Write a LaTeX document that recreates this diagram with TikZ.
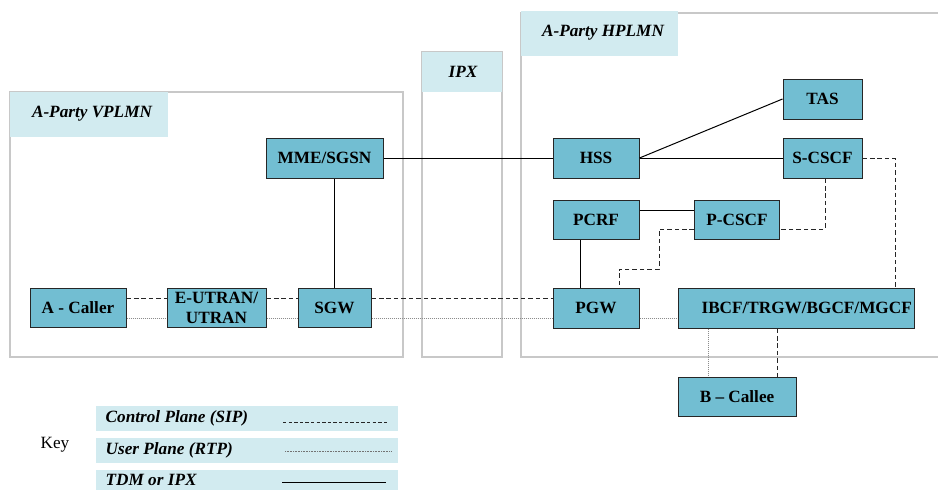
\documentclass[tikz,border=0pt]{standalone}
\usepackage{fontspec}
\setmainfont{Liberation Serif}
\usetikzlibrary{calc}
\definecolor{nodefill}{RGB}{114,190,210}
\definecolor{labfill}{RGB}{210,235,240}
\definecolor{zonegray}{RGB}{200,200,200}
\begin{document}
\begin{tikzpicture}[x=0.75pt,y=-0.75pt,
  netnode/.style={draw=black!85,fill=nodefill,line width=0.75pt,
    font=\fontsize{12.9}{15}\selectfont\bfseries,inner sep=0pt,align=center},
  zone/.style={draw=zonegray,line width=0.9pt},
  zonelabel/.style={fill=labfill,draw=none},
  zonetext/.style={font=\fontsize{12.9}{15}\selectfont\bfseries\itshape},
  keytext/.style={font=\fontsize{12.9}{15}\selectfont\bfseries\itshape,anchor=west},
  sipline/.style={draw=black!85,line width=0.75pt,dash pattern=on 3.4pt off 2.2pt},
  rtpline/.style={draw=black!45,line width=0.75pt,dash pattern=on 0.75pt off 0.75pt},
  tdmline/.style={draw=black,line width=0.75pt}]
\useasboundingbox (0,0) rectangle (938,489);
\clip (0,0) rectangle (938,489);

% zones
\draw[zone] (10,92) rectangle (403,357);
\fill[zonelabel] (10,92) rectangle (168,137);
\node[zonetext] (vplmn) at (92,114) {A-Party VPLMN};

\draw[zone] (422,52) rectangle (502,357);
\fill[zonelabel] (422,52) rectangle (502,92);
\node[zonetext] (ipx) at (463,72) {IPX};

\draw[zone] (521,13) rectangle (950,357);
\fill[zonelabel] (521,11) rectangle (678,56);
\node[zonetext] (hplmn) at (603,33) {A-Party HPLMN};

% nodes
\node[netnode,minimum width=117*0.75pt,minimum height=40*0.75pt] (mme) at (324.5,158) {MME/SGSN};
\node[netnode,minimum width=96*0.75pt,minimum height=39*0.75pt] (caller) at (78,307.5) {A - Caller};
\node[netnode,minimum width=99*0.75pt,minimum height=39*0.75pt] (eutran) at (216.5,307.5) {E-UTRAN/\\UTRAN};
\node[netnode,minimum width=73*0.75pt,minimum height=39*0.75pt] (sgw) at (334.5,307.5) {SGW};
\node[netnode,minimum width=86*0.75pt,minimum height=40*0.75pt] (hss) at (596,158) {HSS};
\node[netnode,minimum width=79*0.75pt,minimum height=40*0.75pt] (tas) at (822.5,99) {TAS};
\node[netnode,minimum width=79*0.75pt,minimum height=40*0.75pt] (scscf) at (822.5,158) {S-CSCF};
\node[netnode,minimum width=86*0.75pt,minimum height=39*0.75pt] (pcrf) at (596,219.5) {PCRF};
\node[netnode,minimum width=85*0.75pt,minimum height=39*0.75pt] (pcscf) at (737,219.5) {P-CSCF};
\node[netnode,minimum width=86*0.75pt,minimum height=40*0.75pt] (pgw) at (596,308) {PGW};
\node[netnode,minimum width=236*0.75pt,minimum height=40*0.75pt] (ibcf) at (796,308) {\hspace{16pt}IBCF/TRGW/BGCF/MGCF};
\node[netnode,minimum width=118*0.75pt,minimum height=39*0.75pt] (callee) at (737,396.5) {B -- Callee};

% helper coordinates
\coordinate (cp) at (0,298);
\coordinate (up) at (0,318);
\coordinate (pc) at (0,210);
\coordinate (pl) at (580,0);
\coordinate (sr) at (895,0);
\coordinate (sc) at (825,0);
\coordinate (pp) at (0,229);
\coordinate (k1) at (659,269);
\coordinate (k2) at (619,269);
\coordinate (cu) at (708,0);
\coordinate (cc) at (777,0);

% control plane (SIP)
\draw[sipline] (caller.east|-cp) -- (eutran.west|-cp);
\draw[sipline] (eutran.east|-cp) -- (sgw.west|-cp);
\draw[sipline] (sgw.east|-cp) -- (pgw.west|-cp);
\draw[sipline] (scscf.east) -| (sr|-ibcf.north);
\draw[sipline] (scscf.south-|sc) |- (pcscf.east|-pp);
\draw[sipline] (pcscf.west|-pp) -| (k1) -- (k2) -- (pgw.north-|k2);
\draw[sipline] (ibcf.south-|cc) -- (callee.north-|cc);

% user plane (RTP)
\draw[rtpline] (caller.east|-up) -- (eutran.west|-up);
\draw[rtpline] (eutran.east|-up) -- (sgw.west|-up);
\draw[rtpline] (sgw.east|-up) -- (pgw.west|-up);
\draw[rtpline] (pgw.east|-up) -- (ibcf.west|-up);
\draw[rtpline] (ibcf.south-|cu) -- (callee.north-|cu);

% TDM or IPX
\draw[tdmline] (sgw.north) -- (sgw.north|-mme.south);
\draw[tdmline] (mme.east) -- (hss.west);
\draw[tdmline] (hss.east) -- (tas.west);
\draw[tdmline] (hss.east) -- (scscf.west);
\draw[tdmline] (pcrf.east|-pc) -- (pcscf.west|-pc);
\draw[tdmline] (pcrf.south-|pl) -- (pgw.north-|pl);

% key
\node[font=\fontsize{12.9}{15}\selectfont] (key) at (55,445) {Key};
\fill[zonelabel] (96,406) rectangle (398,431);
\fill[zonelabel] (96,438) rectangle (398,463);
\fill[zonelabel] (96,470) rectangle (398,495);
\node[keytext] (k1t) at (101,418.5) {Control Plane (SIP)};
\node[keytext] (k2t) at (101,450.5) {User Plane (RTP)};
\node[keytext] (k3t) at (101,479.5) {TDM or IPX};
\coordinate (l1a) at (283,422); \coordinate (l1b) at (388,422);
\coordinate (l2a) at (285,451); \coordinate (l2b) at (391,451);
\coordinate (l3a) at (282,482); \coordinate (l3b) at (386,482);
\draw[draw=black!85,line width=0.6pt,dash pattern=on 2.6pt off 1.6pt] (l1a) -- (l1b);
\draw[draw=black!55,line width=0.6pt,dash pattern=on 0.6pt off 0.6pt] (l2a) -- (l2b);
\draw[tdmline] (l3a) -- (l3b);
\end{tikzpicture}
\end{document}
